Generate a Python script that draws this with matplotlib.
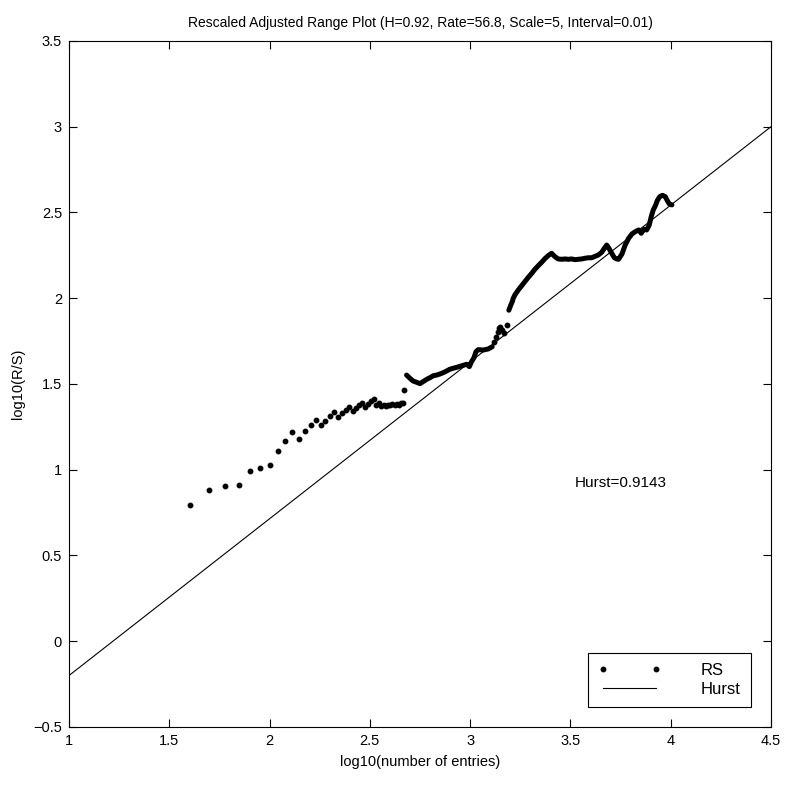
"""
Rescaled adjusted range (R/S) plot with the fitted Hurst line,
redrawn in the style of an old MATLAB figure.
"""

###
# IMPORTS
###
import numpy as np
import matplotlib
matplotlib.use("Agg")
import matplotlib.pyplot as plt

###
# DATA
###
## sparse part of the RS series: number of entries and log10(R/S)
rs_entries = [40, 50, 60, 70, 80, 90, 100, 110, 120, 130, 140, 150, 160, 170,
              180, 190, 200, 210, 220, 230, 240, 250, 260, 270, 280, 290, 300,
              310, 320, 330, 340, 350, 360, 370, 380, 390, 400, 410, 420, 430,
              440, 450, 460, 470]
rs_logrs = [0.796, 0.880, 0.907, 0.911, 0.995, 1.008, 1.030, 1.107, 1.169, 1.218,
            1.181, 1.224, 1.259, 1.290, 1.259, 1.286, 1.312, 1.337, 1.308, 1.329,
            1.348, 1.368, 1.343, 1.360, 1.378, 1.391, 1.368, 1.383, 1.399, 1.411,
            1.378, 1.391, 1.372, 1.376, 1.372, 1.378, 1.375, 1.381, 1.378, 1.385,
            1.380, 1.387, 1.392, 1.465]

## dense part (dots so close they form a band), read as log10 values
band1_x = [2.683, 2.700, 2.716, 2.733, 2.750, 2.766, 2.783, 2.800, 2.816, 2.833,
           2.849, 2.866, 2.883, 2.899, 2.916, 2.933, 2.949, 2.966, 2.983, 2.996,
           3.007, 3.019, 3.029, 3.040, 3.065, 3.090, 3.110]
band1_y = [1.552, 1.533, 1.517, 1.510, 1.502, 1.514, 1.527, 1.537, 1.548, 1.552,
           1.558, 1.566, 1.576, 1.586, 1.592, 1.597, 1.603, 1.609, 1.615, 1.601,
           1.630, 1.653, 1.688, 1.700, 1.698, 1.704, 1.717]

gap_x = [3.120, 3.127, 3.137, 3.144, 3.150, 3.160, 3.170, 3.182]
gap_y = [1.747, 1.776, 1.801, 1.825, 1.834, 1.815, 1.796, 1.844]

band2_x = [3.193, 3.203, 3.210, 3.215, 3.223, 3.240, 3.257, 3.273, 3.290, 3.307,
           3.323, 3.340, 3.357, 3.373, 3.390, 3.406, 3.423, 3.439, 3.456, 3.473,
           3.489, 3.506, 3.523, 3.539, 3.556, 3.572, 3.589, 3.606, 3.622, 3.639,
           3.656, 3.669, 3.681, 3.692, 3.706, 3.719, 3.731, 3.740, 3.757, 3.773,
           3.790, 3.807, 3.823, 3.840, 3.853, 3.866, 3.880, 3.893, 3.903, 3.913,
           3.923, 3.933, 3.945, 3.959, 3.973, 3.983, 3.993, 4.006]
band2_y = [1.930, 1.961, 1.980, 2.000, 2.019, 2.048, 2.073, 2.097, 2.122, 2.145,
           2.169, 2.190, 2.210, 2.231, 2.249, 2.262, 2.242, 2.229, 2.227, 2.229,
           2.227, 2.229, 2.225, 2.227, 2.229, 2.233, 2.236, 2.236, 2.244, 2.252,
           2.268, 2.291, 2.310, 2.291, 2.262, 2.236, 2.229, 2.227, 2.258, 2.310,
           2.349, 2.375, 2.388, 2.398, 2.379, 2.402, 2.398, 2.427, 2.476, 2.515,
           2.538, 2.569, 2.592, 2.600, 2.592, 2.569, 2.550, 2.544]

## fitted Hurst line end points
hurst_x = [1.0, 4.5]
hurst_y = [-0.2, 3.0]
hurst_value = 0.9143

xticks = [1, 1.5, 2, 2.5, 3, 3.5, 4, 4.5]
yticks = [-0.5, 0, 0.5, 1, 1.5, 2, 2.5, 3, 3.5]
xtick_labels = ["1", "1.5", "2", "2.5", "3", "3.5", "4", "4.5"]
ytick_labels = ["\u22120.5", "0", "0.5", "1", "1.5", "2", "2.5", "3", "3.5"]

title_text = "Rescaled Adjusted Range Plot (H=0.92, Rate=56.8, Scale=5, Interval=0.01)"

###
# PLOT
###
plt.rcParams["font.family"] = ["Liberation Sans", "DejaVu Sans"]
plt.rcParams["font.size"] = 10.5

fig = plt.figure(figsize=(7.86, 7.85), dpi=100)
ax = fig.add_axes([0.0878, 0.0739, 0.8931, 0.8739])

# dots and the dense band of dots
rs_line, = ax.plot(np.log10(rs_entries), rs_logrs, linestyle="none", marker="o",
                   ms=3.2, color="k", mec="k", label="RS")
ax.plot(gap_x, gap_y, linestyle="none", marker="o", ms=3.2, color="k")
for bx, by in [(band1_x, band1_y), (band2_x, band2_y)]:
    ax.plot(bx, by, color="k", lw=3.6, solid_capstyle="round",
            solid_joinstyle="round")

hurst_line, = ax.plot(hurst_x, hurst_y, color="k", lw=0.8, label="Hurst")

ax.text(3.52, 0.92, f"Hurst={hurst_value}", ha="left", va="center", fontsize=11)

ax.set_xlim(1, 4.5)
ax.set_ylim(-0.5, 3.5)
ax.set_xticks(xticks, xtick_labels)
ax.set_yticks(yticks, ytick_labels)
ax.tick_params(direction="in", top=True, right=True, length=6, width=0.8, pad=5)
for sp in ax.spines.values():
    sp.set_linewidth(0.8)

ax.set_xlabel("log10(number of entries)", labelpad=5)
ax.set_ylabel("log10(R/S)", labelpad=6)
ax.set_title(title_text, pad=10, fontsize=10)

leg = ax.legend(handles=[rs_line, hurst_line], loc="lower right", numpoints=2,
                handlelength=3.8, handletextpad=2.4, borderpad=0.6,
                labelspacing=0.25, borderaxespad=1.2, fancybox=False,
                framealpha=1, edgecolor="k", fontsize=12)
leg.get_frame().set_linewidth(0.8)

fig.savefig("out.png", dpi=100)
